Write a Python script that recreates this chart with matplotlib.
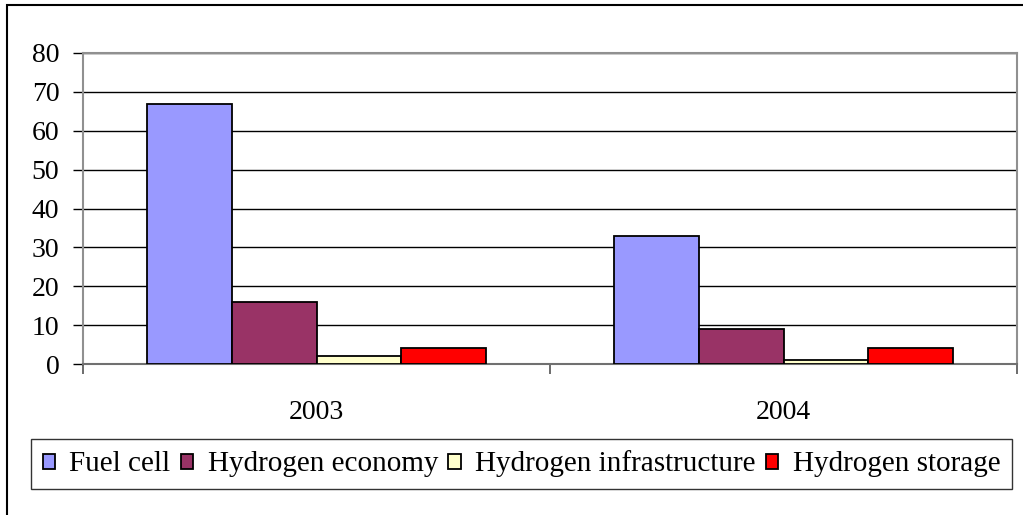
import matplotlib
matplotlib.use("Agg")
import matplotlib.pyplot as plt
import numpy as np
from matplotlib.patches import Rectangle

years = ["2003", "2004"]
series = ["Fuel cell", "Hydrogen economy", "Hydrogen infrastructure", "Hydrogen storage"]
fuel_cell = [67, 33]
hydrogen_economy = [16, 9]
hydrogen_infrastructure = [2, 1]
hydrogen_storage = [4, 4]
colors = ["#9999FF", "#993366", "#FFFFCC", "#FF0000"]

plt.rcParams['font.family'] = ['Liberation Serif', 'DejaVu Serif']
plt.rcParams['font.size'] = 20

fig = plt.figure(figsize=(10.23, 5.15), dpi=100)
ax = fig.add_axes([83 / 1023, 1 - 364 / 515, (1017 - 83) / 1023, (364 - 53) / 515])

# outer chart frame (only left and top edges fall inside the image)
fig.patches.append(Rectangle((7 / 1023, -0.1), 1.2, 1.1 - 5 / 515,
                             transform=fig.transFigure, fill=False,
                             edgecolor="black", linewidth=1.5))

x = np.arange(len(years))
width = 0.182
values = [fuel_cell, hydrogen_economy, hydrogen_infrastructure, hydrogen_storage]
for i, (name, vals) in enumerate(zip(series, values)):
    ax.bar(x + (i - 1.5) * width, vals, width, color=colors[i], edgecolor="black",
           linewidth=1.3, label=name, zorder=3)

ax.set_xlim(-0.5, 1.5)
ax.set_ylim(0, 80)
ax.set_yticks(range(0, 81, 10))
ax.yaxis.grid(True, color="black", linewidth=1.0, zorder=0)
ax.tick_params(axis="y", length=7, width=1, color="black", pad=10, labelsize=20)

ax.set_xticks(x)
ax.set_xticklabels(years)
ax.set_xticks([-0.5, 0.5, 1.5], minor=True)
ax.tick_params(axis="x", which="major", length=0, pad=26, labelsize=20)
ax.tick_params(axis="x", which="minor", length=7, width=1.3, color="#606060")

for side in ["left", "right", "top", "bottom"]:
    ax.spines[side].set_color("#909090")
    ax.spines[side].set_linewidth(1.5)
ax.spines["bottom"].set_color("#707070")

leg = fig.legend(loc="center", bbox_to_anchor=((27 + 1016) / 2 / 1023, 1 - 464 / 515),
                 ncol=4, frameon=True, fancybox=False, fontsize=21,
                 handlelength=0.42, handleheight=0.42, handletextpad=0.5,
                 columnspacing=0.35, borderpad=0.4, borderaxespad=0,
                 edgecolor="black")
leg.get_frame().set_linewidth(1.0)
for h in leg.legend_handles:
    h.set_linewidth(1.3)

fig.savefig("out.png", dpi=100)
